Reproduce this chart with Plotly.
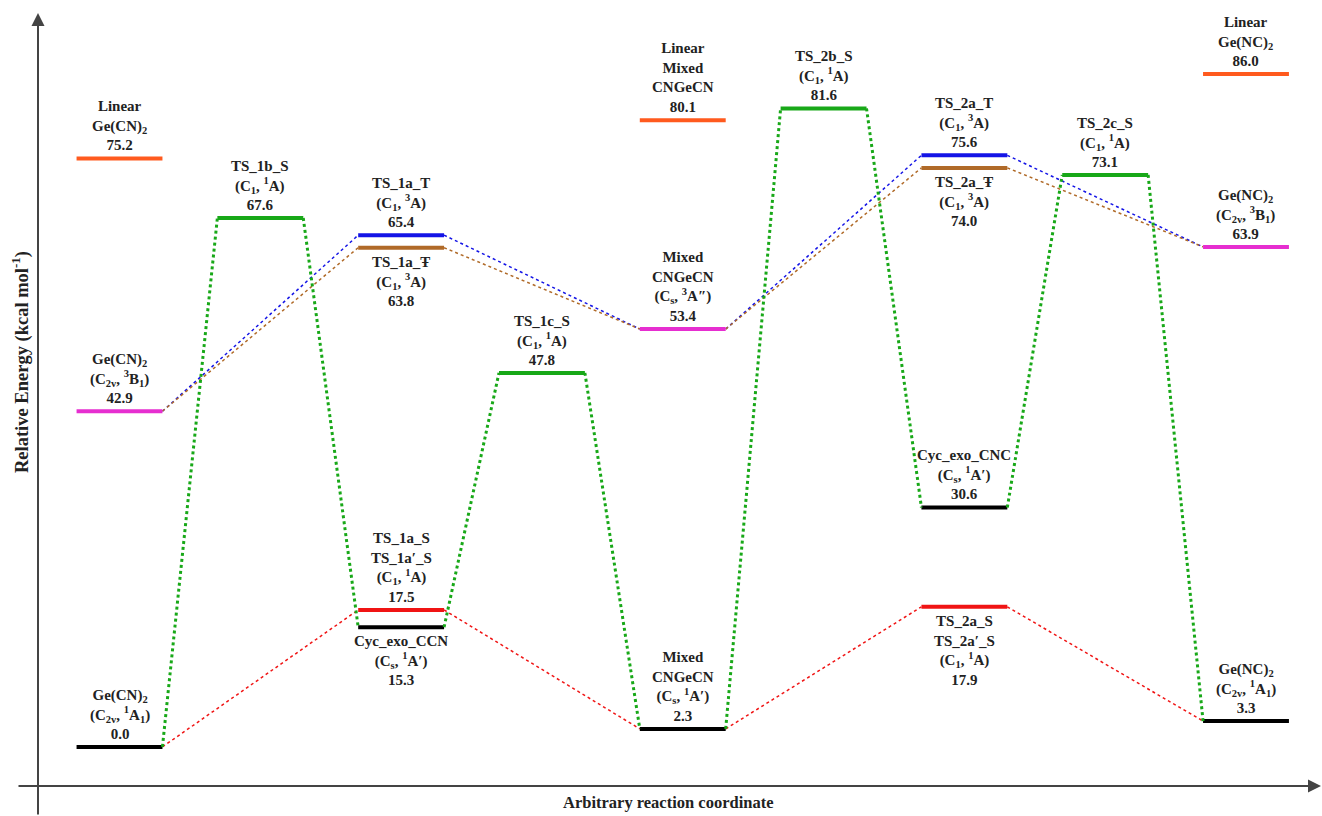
import plotly.graph_objects as go

# ---------------- data ----------------
level_names = [
    "Linear<br>Ge(CN)<sub>2</sub>",                                  # 0
    "Ge(CN)<sub>2</sub><br>(C<sub>2v</sub>, <sup>3</sup>B<sub>1</sub>)",  # 1
    "Ge(CN)<sub>2</sub><br>(C<sub>2v</sub>, <sup>1</sup>A<sub>1</sub>)",  # 2
    "TS_1b_S<br>(C<sub>1</sub>, <sup>1</sup>A)",                      # 3
    "TS_1a_T<br>(C<sub>1</sub>, <sup>3</sup>A)",                      # 4
    "TS_1a_Ŧ<br>(C<sub>1</sub>, <sup>3</sup>A)",                      # 5
    "TS_1a_S<br>TS_1a′_S<br>(C<sub>1</sub>, <sup>1</sup>A)",          # 6
    "Cyc_exo_CCN<br>(C<sub>s</sub>, <sup>1</sup>A′)",                 # 7
    "TS_1c_S<br>(C<sub>1</sub>, <sup>1</sup>A)",                      # 8
    "Linear<br>Mixed<br>CNGeCN",                                      # 9
    "Mixed<br>CNGeCN<br>(C<sub>s</sub>, <sup>3</sup>A″)",             # 10
    "Mixed<br>CNGeCN<br>(C<sub>s</sub>, <sup>1</sup>A′)",             # 11
    "TS_2b_S<br>(C<sub>1</sub>, <sup>1</sup>A)",                      # 12
    "TS_2a_T<br>(C<sub>1</sub>, <sup>3</sup>A)",                      # 13
    "TS_2a_Ŧ<br>(C<sub>1</sub>, <sup>3</sup>A)",                      # 14
    "Cyc_exo_CNC<br>(C<sub>s</sub>, <sup>1</sup>A′)",                 # 15
    "TS_2a_S<br>TS_2a′_S<br>(C<sub>1</sub>, <sup>1</sup>A)",          # 16
    "TS_2c_S<br>(C<sub>1</sub>, <sup>1</sup>A)",                      # 17
    "Ge(NC)<sub>2</sub><br>(C<sub>2v</sub>, <sup>3</sup>B<sub>1</sub>)",  # 18
    "Ge(NC)<sub>2</sub><br>(C<sub>2v</sub>, <sup>1</sup>A<sub>1</sub>)",  # 19
    "Linear<br>Ge(NC)<sub>2</sub>",                                  # 20
]
level_stage = [0, 0, 0, 1, 2, 2, 2, 2, 3, 4, 4, 4, 5, 6, 6, 6, 6, 7, 8, 8, 8]
level_energy = [75.2, 42.9, 0.0, 67.6, 65.4, 63.8, 17.5, 15.3, 47.8, 80.1, 53.4, 2.3,
                81.6, 75.6, 74.0, 30.6, 17.9, 73.1, 63.9, 3.3, 86.0]
level_kind = ["linear", "triplet", "singlet", "ts_s", "ts_t", "ts_t2", "ts_r", "singlet",
              "ts_s", "linear", "triplet", "singlet", "ts_s", "ts_t", "ts_t2", "singlet",
              "ts_r", "ts_s", "triplet", "singlet", "linear"]

path_green = [2, 3, 7, 8, 11, 12, 15, 17, 19]
path_red = [2, 6, 11, 16, 19]
path_blue = [1, 4, 10, 13, 18]
path_brown = [1, 5, 10, 14, 18]

# ---------------- styles ----------------
kind_color = {
    "linear": "#FF5A1E", "triplet": "#E62ED0", "singlet": "#000000",
    "ts_s": "#18A818", "ts_t": "#1414E6", "ts_t2": "#B06A28", "ts_r": "#F01414",
}
label_below = {5, 7, 14, 16}
HW = 0.305
FONT = "Liberation Serif, Times New Roman, serif"

fig = go.Figure()


def add_path(path, color, width):
    xs, ys = [], []
    for a, b in zip(path[:-1], path[1:]):
        xs += [level_stage[a] + HW, level_stage[b] - HW, None]
        ys += [level_energy[a], level_energy[b], None]
    fig.add_trace(go.Scatter(x=xs, y=ys, mode="lines", hoverinfo="skip",
                             line=dict(color=color, width=width, dash="dot")))


add_path(path_red, "#F01414", 1.5)
add_path(path_blue, "#1414E6", 1.5)
add_path(path_brown, "#B06A28", 1.5)

for i, (s, e, k) in enumerate(zip(level_stage, level_energy, level_kind)):
    fig.add_trace(go.Scatter(x=[s - HW, s + HW], y=[e, e], mode="lines",
                             line=dict(color=kind_color[k], width=4), hoverinfo="skip"))

add_path(path_green, "#18A818", 3)

for i, (name, s, e) in enumerate(zip(level_names, level_stage, level_energy)):
    below = i in label_below
    fig.add_annotation(
        x=s, y=e, xref="x", yref="y", showarrow=False,
        text="<b>" + name + "<br>" + f"{e:.1f}" + "</b>",
        yanchor="top" if below else "bottom",
        yshift=-4 if below else 3,
        font=dict(family=FONT, size=15, color="#222222"),
        align="center",
    )

# axes with arrows
AX_COLOR = "#444444"
fig.add_annotation(x=0, y=(786 - 13) / 766, xref="paper", yref="paper", text="",
                   showarrow=True, ax=0, ay=803, axref="pixel", ayref="pixel",
                   arrowhead=2, arrowsize=1.3, arrowwidth=2, arrowcolor=AX_COLOR)
fig.add_annotation(x=(1321 - 38) / 1280, y=0, xref="paper", yref="paper", text="",
                   showarrow=True, ax=-1304, ay=0, axref="pixel", ayref="pixel",
                   arrowhead=2, arrowsize=1.3, arrowwidth=2, arrowcolor=AX_COLOR)

fig.add_annotation(x=(20 - 38) / 1280, y=(786 - 362) / 766, xref="paper", yref="paper",
                   xanchor="center", yanchor="middle",
                   text="<b>Relative Energy (kcal mol<sup>-1</sup>)</b>", textangle=-90,
                   showarrow=False, font=dict(family=FONT, size=18.5, color="#222222"))
fig.add_annotation(x=(668 - 38) / 1280, y=0, yshift=-5, xref="paper", yref="paper",
                   xanchor="center", yanchor="top",
                   text="<b>Arbitrary reaction coordinate</b>",
                   showarrow=False, font=dict(family=FONT, size=16.5, color="#222222"))

fig.update_layout(
    width=1322, height=816,
    margin=dict(l=38, r=4, t=20, b=30),
    plot_bgcolor="white", paper_bgcolor="white",
    showlegend=False,
    xaxis=dict(range=[-81.5 / 140.8, 8 + 72 / 140.8], visible=False, fixedrange=True),
    yaxis=dict(range=[-5, 92.9], visible=False, fixedrange=True),
)

fig.write_html("out.html")
